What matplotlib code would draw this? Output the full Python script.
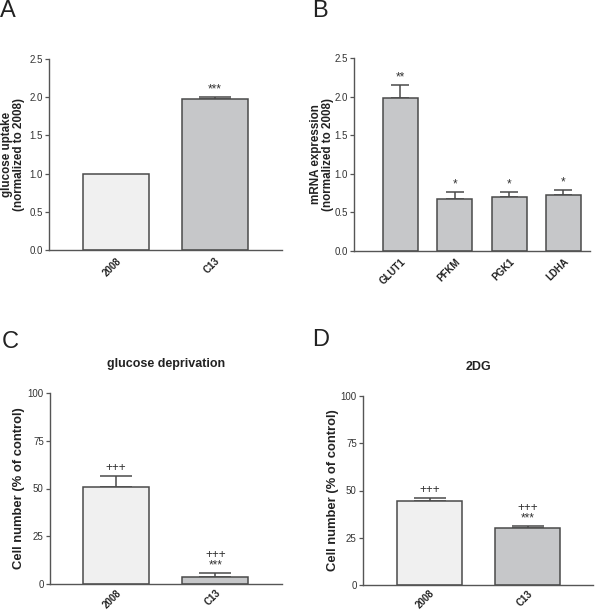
import matplotlib
matplotlib.use("Agg")
import matplotlib.pyplot as plt

plt.rcParams['font.family'] = ['Liberation Sans', 'DejaVu Sans']

# Panel A
a_cats = ["2008", "C13"]
a_vals = [1.0, 1.97]
a_errs = [0.0, 0.03]
a_marks = ["", "***"]

# Panel B
b_cats = ["GLUT1", "PFKM", "PGK1", "LDHA"]
b_vals = [1.98, 0.68, 0.70, 0.73]
b_errs = [0.17, 0.08, 0.07, 0.06]
b_marks = ["**", "*", "*", "*"]

# Panel C
c_cats = ["2008", "C13"]
c_vals = [51.0, 3.5]
c_errs = [5.5, 2.0]
c_marks = ["+++", "+++\n***"]

# Panel D
d_cats = ["2008", "C13"]
d_vals = [44.5, 30.0]
d_errs = [1.5, 1.2]
d_marks = ["+++", "+++\n***"]

LIGHT = "#f0f0f0"
GRAY = "#c6c7c9"
EDGE = "#4a4a4a"
W, H = 600, 611

fig = plt.figure(figsize=(6.0, 6.11), dpi=100)


def make_ax(l, r, b, t):
    return fig.add_axes([l / W, 1 - b / H, (r - l) / W, (b - t) / H])


def panel(ax, cats, vals, errs, marks, colors, width, xlim, ylim, yticks,
          yticklabels, ylabel, ylabsize, labelpad, capsize, markoff,
          xpad=4, title=None):
    x = list(range(len(cats)))
    ax.bar(x, vals, width=width, color=colors, edgecolor=EDGE, linewidth=1.1,
           zorder=2)
    for xi, v, e in zip(x, vals, errs):
        if e > 0:
            ax.errorbar(xi, v, yerr=[[0], [e]], fmt='none', ecolor=EDGE,
                        elinewidth=1.1, capsize=capsize, capthick=1.1,
                        zorder=1)
    for xi, v, e, m in zip(x, vals, errs, marks):
        if m:
            ax.text(xi, v + e + markoff, m, ha='center', va='bottom',
                    fontsize=8.5, color='#333333', linespacing=0.8)
    ax.set_xlim(*xlim)
    ax.set_ylim(*ylim)
    ax.set_yticks(yticks)
    ax.set_yticklabels(yticklabels, fontsize=7, color='#333333')
    ax.set_xticks(x)
    ax.set_xticklabels(cats, rotation=45, ha='right', rotation_mode='anchor',
                       fontsize=7, fontweight='bold', color='#222222')
    ax.tick_params(axis='x', length=0, pad=xpad)
    ax.tick_params(axis='y', length=3, width=0.9, color='#555555', pad=1.5)
    for s in ['top', 'right']:
        ax.spines[s].set_visible(False)
    for s in ['left', 'bottom']:
        ax.spines[s].set_color('#555555')
        ax.spines[s].set_linewidth(1.0)
    ax.set_ylabel(ylabel, fontsize=ylabsize, fontweight='bold',
                  color='#222222', linespacing=1.0, labelpad=labelpad)
    if title:
        ax.set_title(title, fontsize=9, fontweight='bold', color='#222222',
                     pad=19)
    ax.patch.set_alpha(0)


axA = make_ax(49, 282, 250, 59)
panel(axA, a_cats, a_vals, a_errs, a_marks, [LIGHT, GRAY], 0.667,
      (-0.677, 1.677), (0, 2.5), [0, 0.5, 1.0, 1.5, 2.0, 2.5],
      ["0.0", "0.5", "1.0", "1.5", "2.0", "2.5"],
      "glucose uptake\n(normalized to 2008)", 8.4, 3, 11.5, 0.02)

axB = make_ax(354, 590, 251, 58)
panel(axB, b_cats, b_vals, b_errs, b_marks, [GRAY] * 4, 0.645,
      (-0.856, 3.49), (0, 2.5), [0, 0.5, 1.0, 1.5, 2.0, 2.5],
      ["0.0", "0.5", "1.0", "1.5", "2.0", "2.5"],
      "mRNA expression\n(normalized to 2008)", 8.4, 0.5, 6.8, 0.02)

axC = make_ax(50, 282, 584, 393)
panel(axC, c_cats, c_vals, c_errs, c_marks, [LIGHT, GRAY], 0.663,
      (-0.663, 1.67), (0, 100), [0, 25, 50, 75, 100],
      ["0", "25", "50", "75", "100"],
      "Cell number (% of control)", 9.4, 2, 11.5, 1.0, xpad=3,
      title="glucose deprivation")

axD = make_ax(363, 593, 585, 396)
panel(axD, d_cats, d_vals, d_errs, d_marks, [LIGHT, GRAY], 0.663,
      (-0.679, 1.668), (0, 100), [0, 25, 50, 75, 100],
      ["0", "25", "50", "75", "100"],
      "Cell number (% of control)", 9.4, 1, 11.5, 1.0, xpad=2.5,
      title="2DG")

for lab, px, py in [("A", 0, 0), ("B", 312, 0), ("C", 2, 331), ("D", 312, 329)]:
    fig.text(px / W, 1 - py / H, lab, fontsize=17, ha='left', va='top',
             color='#222222')

fig.savefig("out.png", dpi=100)
